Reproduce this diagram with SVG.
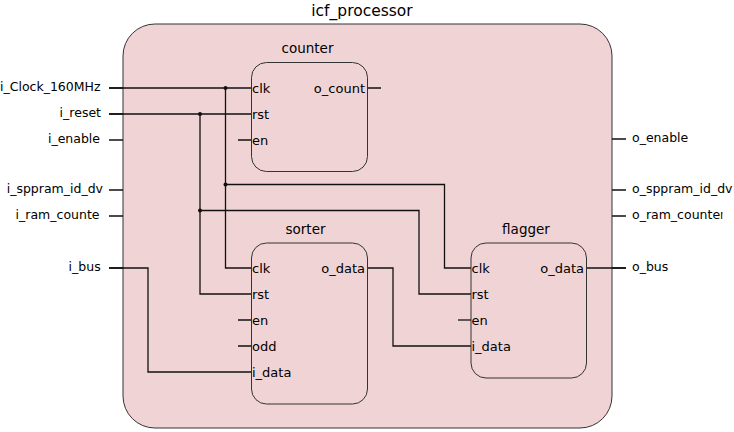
<svg xmlns="http://www.w3.org/2000/svg" width="734" height="432" viewBox="0 0 734 432">
<style>
.box{fill:#f0d4d5;stroke:#333;stroke-width:1}
.w{fill:none;stroke:#111;stroke-width:1.3}
.t{font-family:"DejaVu Sans",sans-serif;fill:#000}
.ext{font-size:12.5px}
.pin{font-size:13px}
.ttl{font-size:13.5px;text-anchor:middle}
.dot{fill:#111}
</style>
<defs>
<clipPath id="rclip"><rect x="600" y="0" width="122.5" height="432"/></clipPath>
</defs>
<rect width="734" height="432" fill="#fff"/>
<g id="icf_processor">
<rect class="box" x="123" y="24" width="489" height="404" rx="32" ry="32"/>
<text class="t" x="362" y="16" style="font-size:15.5px;text-anchor:middle">icf_processor</text>
</g>
<g id="ports">
<g class="w">
<path d="M109 88H123M109 114H123M109 140H123M109 190H123M109 216H123M109 268H123"/>
<path d="M612 139H626M612 190H626M612 216H626M612 268H626"/>
</g>
<g class="t ext" style="text-anchor:end">
<text x="100.5" y="91">i_Clock_160MHz</text>
<text x="101" y="117">i_reset</text>
<text x="100" y="143">i_enable</text>
<text x="103" y="193">i_sppram_id_dv</text>
<text x="99.5" y="219">i_ram_counte</text>
<text x="100.7" y="271">i_bus</text>
</g>
<g class="t ext">
<text x="632" y="142">o_enable</text>
<text x="632" y="193">o_sppram_id_dv</text>
<text x="632" y="219" clip-path="url(#rclip)">o_ram_counter</text>
<text x="632" y="271">o_bus</text>
</g>
</g>
<g id="connectors" class="w">
<path d="M109 88H251"/>
<path d="M225.5 88V268H251"/>
<path d="M225.5 184.5H444.5V268H471"/>
<path d="M109 114H251"/>
<path d="M200 114V294H251"/>
<path d="M200 210.5H419V294H471"/>
<path d="M109 268H148V372H251"/>
<path d="M368 268H393V346H471"/>
<path d="M586 268H626"/>
</g>
<g id="junctions" class="dot">
<circle cx="225.5" cy="88" r="2"/>
<circle cx="200" cy="114" r="2"/>
<circle cx="225.5" cy="184.5" r="2"/>
<circle cx="200" cy="210.5" r="2"/>
</g>
<g id="counter">
<text class="t ttl" x="307.5" y="53">counter</text>
<rect class="box" x="251.5" y="62.5" width="116" height="109" rx="15" ry="15"/>
<path class="w" d="M238 140H251M368 88H381"/>
<g class="t pin">
<text x="252" y="93">clk</text>
<text x="252" y="119">rst</text>
<text x="252" y="145">en</text>
<text x="365" y="93" style="text-anchor:end">o_count</text>
</g>
</g>
<g id="sorter">
<text class="t ttl" x="305.5" y="234">sorter</text>
<rect class="box" x="251.5" y="243" width="116" height="161" rx="15" ry="15"/>
<path class="w" d="M238 320H251M238 346H251"/>
<g class="t pin">
<text x="252" y="273">clk</text>
<text x="252" y="299">rst</text>
<text x="252" y="325">en</text>
<text x="252" y="351">odd</text>
<text x="252" y="377">i_data</text>
<text x="365" y="273" style="text-anchor:end">o_data</text>
</g>
</g>
<g id="flagger">
<text class="t ttl" x="526" y="233.5">flagger</text>
<rect class="box" x="471" y="243" width="115.5" height="135" rx="15" ry="15"/>
<path class="w" d="M458 320H471"/>
<g class="t pin">
<text x="471.5" y="273">clk</text>
<text x="471.5" y="299">rst</text>
<text x="471.5" y="325">en</text>
<text x="471.5" y="351">i_data</text>
<text x="584" y="273" style="text-anchor:end">o_data</text>
</g>
</g>
</svg>
